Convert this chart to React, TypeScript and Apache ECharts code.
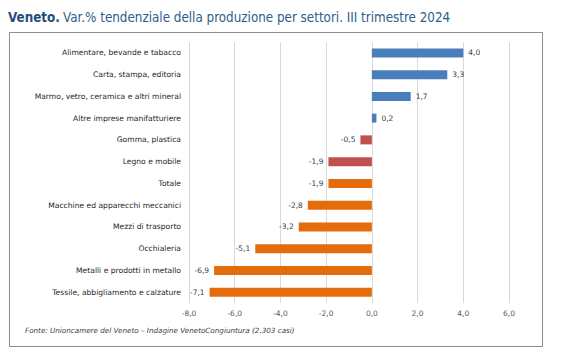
import React, { useEffect, useRef } from "react";
import * as echarts from "echarts";

const categories = [
  "Alimentare, bevande e tabacco",
  "Carta, stampa, editoria",
  "Marmo, vetro, ceramica e altri mineral",
  "Altre imprese manifatturiere",
  "Gomma, plastica",
  "Legno e mobile",
  "Totale",
  "Macchine ed apparecchi meccanici",
  "Mezzi di trasporto",
  "Occhialeria",
  "Metalli e prodotti in metallo",
  "Tessile, abbigliamento e calzature",
];
const values = [4.0, 3.3, 1.7, 0.2, -0.5, -1.9, -1.9, -2.8, -3.2, -5.1, -6.9, -7.1];
const groups = ["pos", "pos", "pos", "pos", "neg", "neg", "tot", "tot", "tot", "tot", "tot", "tot"];
const groupColors: Record<string, string> = { pos: "#4A7EBB", neg: "#C0504D", tot: "#E46C0A" };
const xMin = -8;
const xMax = 6;
const xInterval = 2;

const fmt = (v: number) => v.toFixed(1).replace(".", ",");

export default function App() {
  const ref = useRef<HTMLDivElement>(null);
  useEffect(() => {
    const chart = echarts.init(ref.current!, null, { renderer: "svg" });
    const font = "DejaVu Sans";
    const titleFont = "DejaVu Sans Condensed, sans-serif";
    chart.setOption({
      animation: false,
      backgroundColor: "#ffffff",
      graphic: [
        {
          type: "rect",
          shape: { x: 9.5, y: 32.5, width: 533, height: 314 },
          style: { fill: "#fff", stroke: "#8c8c8c", lineWidth: 1 },
          z: -10,
        },
        {
          type: "text",
          x: 8,
          y: 11,
          style: {
            text: "{b|Veneto.} {n|Var.% tendenziale della produzione per settori. III trimestre 2024}",
            rich: {
              b: { fontFamily: titleFont, fontSize: 13.3, fontWeight: "bold", fill: "#1F4E79" },
              n: { fontFamily: titleFont, fontSize: 13.3, fill: "#2E5D8C" },
            },
          },
        },
        {
          type: "text",
          x: 25,
          y: 327,
          style: {
            text: "Fonte: Unioncamere del Veneto \u2013 Indagine VenetoCongiuntura (2.303 casi)",
            fontFamily: font,
            fontStyle: "italic",
            fontSize: 7.2,
            fill: "#404040",
          },
        },
      ],
      grid: { left: 189, right: 60, top: 42, bottom: 56 },
      xAxis: {
        type: "value",
        min: xMin,
        max: xMax,
        interval: xInterval,
        axisLine: { show: false },
        axisTick: { show: false },
        axisLabel: { formatter: (v: number) => fmt(v), fontFamily: font, fontSize: 7.5, color: "#595959", margin: 6 },
        splitLine: { lineStyle: { color: "#d9d9d9", width: 1 } },
      },
      yAxis: {
        type: "category",
        data: categories,
        inverse: true,
        axisLine: { show: false, onZero: false },
        axisTick: { show: false },
        axisLabel: { fontFamily: font, fontSize: 7.6, color: "#262626", margin: 8 },
      },
      series: [
        {
          type: "bar",
          barWidth: 9,
          data: values.map((v, i) => ({
            value: v,
            itemStyle: { color: groupColors[groups[i]] },
            label: { position: v >= 0 ? "right" : "left" },
          })),
          label: {
            show: true,
            formatter: (p: any) => fmt(p.value),
            fontFamily: font,
            fontSize: 7.5,
            color: "#404040",
            distance: 5,
          },
        },
      ],
    });
    return () => chart.dispose();
  }, []);
  return <div ref={ref} style={{ position: "absolute", left: 0, top: 0, width: 569, height: 359 }} />;
}
